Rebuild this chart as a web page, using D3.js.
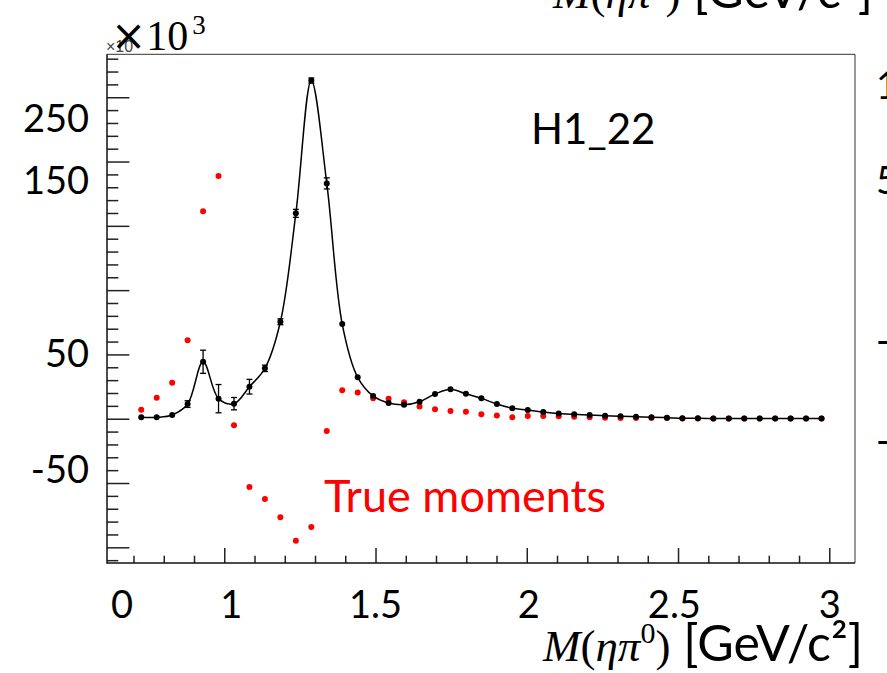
<!DOCTYPE html>
<html>
<head>
<meta charset="utf-8">
<script src="https://cdn.jsdelivr.net/npm/d3@7"></script>
<style>
  html, body { margin: 0; padding: 0; background: #fff; overflow: hidden; }
  svg { display: block; }
</style>
</head>
<body>
<svg id="chart" width="887" height="673"></svg>
<script>
// ---- data (values in units of 10^3) ----
const massBins = [0.7256, 0.7767, 0.8278, 0.8789, 0.9300, 0.9811, 1.0322, 1.0833, 1.1344, 1.1856,
  1.2367, 1.2878, 1.3389, 1.3900, 1.4411, 1.4922, 1.5433, 1.5944, 1.6456, 1.6967,
  1.7478, 1.7989, 1.8500, 1.9011, 1.9522, 2.0033, 2.0544, 2.1056, 2.1567, 2.2078,
  2.2589, 2.3100, 2.3611, 2.4122, 2.4633, 2.5144, 2.5656, 2.6167, 2.6678, 2.7189,
  2.7700, 2.8211, 2.8722, 2.9233, 2.9744];
const fitMoments = [1.1, 1.1, 2.9, 11.4, 44.3, 15.6, 11.7, 24.9, 39.2, 75.4,
  159.7, 263.0, 183.0, 73.6, 32.2, 17.7, 12.2, 10.9, 13.2, 19.2,
  22.9, 19.4, 15.9, 11.4, 8.1, 6.8, 5.2, 4.0, 3.4, 2.9,
  2.3, 1.9, 1.6, 1.1, 0.8, 0.4, 0.3, 0.2, 0.2, 0.1,
  0.1, 0.1, 0.1, 0.1, 0.1];
const fitErrors = [0.3, 0.3, 0.5, 2.6, 9.0, 11.0, 4.8, 5.7, 2.5, 2.3,
  3.1, 2.0, 4.3, 1.5, 1.0, 0.8, 0.8, 0.8, 0.8, 0.8,
  0.8, 0.7, 0.7, 0.6, 0.6, 0.5, 0.5, 0.4, 0.4, 0.4,
  0.3, 0.3, 0.3, 0.3, 0.3, 0.2, 0.2, 0.2, 0.2, 0.2,
  0.2, 0.2, 0.2, 0.2, 0.2];
const trueMoments = [7.0, 16.3, 28.0, 61.0, 161.4, 188.7, -5.1, -53.1, -62.4, -76.7,
  -94.9, -84.2, -9.6, 22.1, 20.4, 15.9, 15.6, 12.8, 9.6, 7.3,
  6.0, 5.4, 3.4, 2.6, 1.1, 2.1, 2.2, 1.9, 1.6, 1.1,
  0.8, 0.5, 0.5, 0.5, 0.5, 0.2, 0.1, 0.1, 0.1, 0.1,
  0.1, 0.1, 0.1, 0.1, 0.1];

// overlay tick labels as they appear on the picture (text, position in data units)
const xTickLabels = ["0", "1", "1.5", "2", "2.5", "3"];
const xTickLabelPos = [0.662, 1.023, 1.5, 2.007, 2.488, 3.002];
const yTickLabels = ["250", "150", "50", "-50"];
const yTickLabelPos = [233.8, 185.2, 50.7, -39.5];
const xMajorTicks = [1, 1.5, 2, 2.5, 3];
const xMinorTicks = [0.7, 0.8, 0.9, 1.1, 1.2, 1.3, 1.4, 1.6, 1.7, 1.8, 1.9, 2.1, 2.2, 2.3, 2.4, 2.6, 2.7, 2.8, 2.9];
const yMajorTicks = [-100, -50, 0, 50, 100, 150, 200, 250];
const yMinorTicks = [-110, -90, -80, -70, -60, -40, -30, -20, -10, 10, 20, 30, 40, 60, 70, 80, 90,
  110, 120, 130, 140, 160, 170, 180, 190, 210, 220, 230, 240, 260, 270, 280];
const neighbourLabels = ["100", "50", "-50", "-100"];
const neighbourLabelPos = [85, 180, 340, 440];

// ---- layout ----
const svg = d3.select("#chart");
const frame = { left: 107, right: 855, top: 54.3, bottom: 563 };
const x = d3.scaleLinear().domain([0.6124, 3.085]).range([frame.left, frame.right]);
const y = d3.scaleLinear().domain([-112.2, 283.4]).range([frame.bottom, frame.top]);
const FONT = "Lato, 'Open Sans', sans-serif";
const SERIF = "'Liberation Serif', 'DejaVu Serif', serif";

// frame top/right
svg.append("line").attr("x1", frame.left).attr("x2", frame.right).attr("y1", frame.top).attr("y2", frame.top)
  .attr("stroke", "#333").attr("stroke-width", 1);
svg.append("line").attr("x1", frame.right).attr("x2", frame.right).attr("y1", frame.top).attr("y2", frame.bottom)
  .attr("stroke", "#333").attr("stroke-width", 1);

// y axis (ticks inward)
const yAxisMajor = d3.axisRight(y).tickValues(yMajorTicks).tickSize(22.4).tickFormat("");
const yAxisMinor = d3.axisRight(y).tickValues(yMinorTicks).tickSize(11.3).tickFormat("");
[yAxisMinor, yAxisMajor].forEach(ax => {
  const g = svg.append("g").attr("transform", `translate(${frame.left},0)`).call(ax);
  g.select(".domain").remove();
  g.selectAll(".tick line").attr("stroke", "#222").attr("stroke-width", 1.5);
});
// x axis (ticks inward)
const xAxisMajor = d3.axisTop(x).tickValues(xMajorTicks).tickSize(15).tickFormat("");
const xAxisMinor = d3.axisTop(x).tickValues(xMinorTicks).tickSize(7.3).tickFormat("");
[xAxisMinor, xAxisMajor].forEach(ax => {
  const g = svg.append("g").attr("transform", `translate(0,${frame.bottom})`).call(ax);
  g.select(".domain").remove();
  g.selectAll(".tick line").attr("stroke", "#222").attr("stroke-width", 1.5);
});
// left and bottom axis lines
svg.append("line").attr("x1", frame.left).attr("x2", frame.left).attr("y1", frame.top).attr("y2", frame.bottom + 0.75)
  .attr("stroke", "#111").attr("stroke-width", 1.5);
svg.append("line").attr("x1", frame.left).attr("x2", frame.right).attr("y1", frame.bottom).attr("y2", frame.bottom)
  .attr("stroke", "#111").attr("stroke-width", 1.5);

// tick labels
svg.append("g").selectAll("text").data(xTickLabels).join("text")
  .attr("x", (d, i) => x(xTickLabelPos[i])).attr("y", 618)
  .attr("text-anchor", "middle").attr("font-family", FONT).attr("font-size", 38).attr("fill", "#000")
  .text(d => d);
svg.append("g").selectAll("text").data(yTickLabels).join("text")
  .attr("x", 89).attr("y", (d, i) => y(yTickLabelPos[i]))
  .attr("dy", "0.36em")
  .attr("text-anchor", "end").attr("font-family", FONT).attr("font-size", 38).attr("fill", "#000")
  .text(d => d);

// red true moments (drawn beneath)
svg.append("g").selectAll("circle").data(trueMoments).join("circle")
  .attr("cx", (d, i) => x(massBins[i])).attr("cy", d => y(d)).attr("r", 3)
  .attr("fill", "#ff0000");

// fit curve
const line = d3.line().x((d, i) => x(massBins[i])).y(d => y(d)).curve(d3.curveCatmullRom.alpha(0.5));
svg.append("path").datum(fitMoments).attr("d", line)
  .attr("fill", "none").attr("stroke", "#000").attr("stroke-width", 1.5);

// error bars
const eb = svg.append("g").attr("stroke", "#000").attr("stroke-width", 1.3);
fitMoments.forEach((v, i) => {
  const cx = x(massBins[i]), y1 = y(v - fitErrors[i]), y2 = y(v + fitErrors[i]);
  if (Math.abs(y1 - y2) < 5) return;
  eb.append("line").attr("x1", cx).attr("x2", cx).attr("y1", y1).attr("y2", y2);
  eb.append("line").attr("x1", cx - 3).attr("x2", cx + 3).attr("y1", y1).attr("y2", y1);
  eb.append("line").attr("x1", cx - 3).attr("x2", cx + 3).attr("y1", y2).attr("y2", y2);
});
// black points
svg.append("g").selectAll("circle").data(fitMoments).join("circle")
  .attr("cx", (d, i) => x(massBins[i])).attr("cy", d => y(d)).attr("r", 3)
  .attr("fill", "#000");

// texts
svg.append("text").attr("x", 531).attr("y", 144).attr("font-family", FONT).attr("font-size", 42)
  .attr("fill", "#000").text("H1_22");
svg.append("text").attr("x", 324).attr("y", 512).attr("font-family", FONT).attr("font-size", 45)
  .attr("fill", "#ff0000").text("True moments");

// small ROOT exponent label and big overlay
svg.append("text").attr("x", 106).attr("y", 52).attr("font-family", "'Liberation Sans', sans-serif")
  .attr("font-size", 16).attr("fill", "#444").text("×10");
const expo = svg.append("text").attr("x", 111).attr("y", 50).attr("fill", "#000");
expo.append("tspan").attr("font-family", "'DejaVu Sans', sans-serif").attr("font-size", 42).text("×");
expo.append("tspan").attr("font-family", SERIF).attr("font-size", 42).text("10");
expo.append("tspan").attr("font-family", SERIF).attr("font-size", 27).attr("dx", 4).attr("dy", -16).text("3");

// axis titles
function massTitle(xPos, yPos) {
  const t = svg.append("text").attr("x", xPos).attr("y", yPos).attr("fill", "#000");
  t.append("tspan").attr("font-family", SERIF).attr("font-style", "italic").attr("font-size", 45).text("M");
  t.append("tspan").attr("font-family", SERIF).attr("font-size", 45).text("(");
  t.append("tspan").attr("font-family", SERIF).attr("font-style", "italic").attr("font-size", 45).text("ηπ");
  t.append("tspan").attr("font-family", SERIF).attr("font-size", 30).attr("dy", -18).text("0");
  t.append("tspan").attr("font-family", SERIF).attr("font-size", 45).attr("dy", 18).text(")");
  t.append("tspan").attr("font-family", FONT).attr("font-size", 50).text(" [GeV/c²]");
}
massTitle(543, 661);
massTitle(553, 8);

// neighbouring chart's labels (cut at the edge)
svg.append("g").selectAll("text").data(neighbourLabels).join("text")
  .attr("x", 876).attr("y", (d, i) => neighbourLabelPos[i]).attr("dy", "0.36em")
  .attr("font-family", FONT).attr("font-size", 38).attr("fill", "#000").text(d => d);
</script>
</body>
</html>
